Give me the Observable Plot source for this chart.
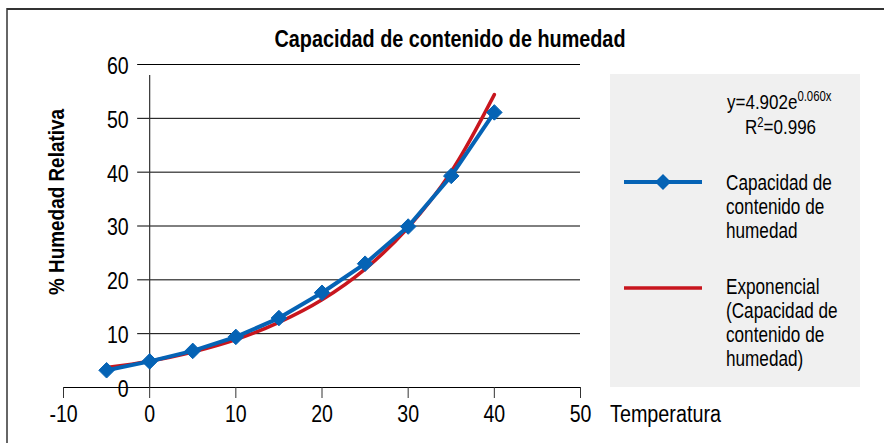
<!DOCTYPE html>
<html>
<head>
<meta charset="utf-8">
<script src="https://cdn.jsdelivr.net/npm/d3@7"></script>
<script src="https://cdn.jsdelivr.net/npm/@observablehq/plot@0.6"></script>
<style>
  html, body { margin: 0; padding: 0; background: #fff; }
  #chart { width: 884px; height: 443px; overflow: hidden; }
</style>
</head>
<body>
<div id="chart"></div>
<script>
// ---- data ----
const temperaturas = [-5, 0, 5, 10, 15, 20, 25, 30, 35, 40];
const humedad = [3.2, 4.85, 6.8, 9.4, 12.9, 17.6, 23.0, 29.9, 39.3, 51.1];
const tendencia = [3.7, 4.9, 6.6, 8.9, 12.1, 16.3, 22.0, 29.7, 40.1, 54.4];
const xTicks = [-10, 0, 10, 20, 30, 40, 50];
const yTicks = [0, 10, 20, 30, 40, 50, 60];
const titulo = "Capacidad de contenido de humedad";
const tituloY = "% Humedad Relativa";
const tituloX = "Temperatura";
const ecuacion = ["y=4.902e", "0.060x"];
const r2 = ["R", "2", "=0.996"];
const leyendaSerie = ["Capacidad de", "contenido de", "humedad"];
const leyendaTend = ["Exponencial", "(Capacidad de", "contenido de", "humedad)"];

const BLUE = "#0563b5";
const RED = "#c8161e";
const FONT = "'Liberation Sans', Arial, sans-serif";

const serie = temperaturas.map((t, i) => ({t, h: humedad[i]}));
const trend = temperaturas.map((t, i) => ({t, h: tendencia[i]}));

const plot = Plot.plot({
  width: 884,
  height: 443,
  marginLeft: 63,
  marginRight: 304,
  marginTop: 64,
  marginBottom: 56,
  style: {fontFamily: FONT, fontSize: "23px", color: "#000", background: "transparent", overflow: "visible"},
  x: {domain: [-10, 50], axis: null},
  y: {domain: [0, 60], axis: null},
  marks: [
    Plot.ruleY(yTicks.filter(d => d > 0), {x1: 0, x2: 50, insetLeft: -12, stroke: "#000", strokeWidth: 1}),
    Plot.ruleY([0], {x1: -10, x2: 50, stroke: "#000", strokeWidth: 1}),
    Plot.ruleX([0], {y1: 0, y2: 60, insetBottom: -11, stroke: "#333", strokeWidth: 1.2}),
    Plot.axisX({ticks: xTicks, tickSize: 11, tickPadding: 7, label: null, tickFormat: d => String(d), stroke: "#333", fontSize: 23}),
    Plot.text(yTicks, {x: 0, y: d => d, dx: -21, dy: 2, textAnchor: "end", text: d => String(d), fontSize: 23}),
    Plot.line(trend, {x: "t", y: "h", stroke: RED, strokeWidth: 3.5, curve: "catmull-rom"}),
    Plot.line(serie, {x: "t", y: "h", stroke: BLUE, strokeWidth: 4}),
    Plot.dot(serie, {x: "t", y: "h", symbol: "diamond2", r: 7, fill: BLUE, stroke: BLUE, strokeWidth: 1})
  ]
});

document.getElementById("chart").appendChild(plot);

const svg = d3.select(plot);

// condense the tick labels horizontally around their anchor
function condense(sel, s) {
  sel.each(function () {
    const el = d3.select(this);
    const x = +el.attr("x") || 0, y = +el.attr("y") || 0;
    const t = el.attr("transform") || "";
    el.attr("transform", `${t} translate(${x},${y}) scale(${s},1) translate(${-x},${-y})`);
  });
}
condense(svg.selectAll('g[aria-label="x-axis tick label"] text'), 0.85);
condense(svg.selectAll('g[aria-label="text"] text'), 0.85);

function addText(parent, x, y, str, o = {}) {
  const el = parent.append("text")
    .attr("transform", `translate(${x},${y})${o.rotate ? ` rotate(${o.rotate})` : ""} scale(${o.scale || 1},1)`)
    .attr("text-anchor", o.anchor || "start")
    .attr("font-family", FONT)
    .attr("font-size", o.size || 22)
    .attr("font-weight", o.weight || "normal")
    .attr("fill", "#000");
  if (str != null) el.text(str);
  return el;
}

// outer border (top + left)
svg.append("line").attr("x1", 7).attr("x2", 884).attr("y1", 9).attr("y2", 9)
  .attr("stroke", "#333").attr("stroke-width", 2);
svg.append("line").attr("x1", 7).attr("x2", 7).attr("y1", 8).attr("y2", 443)
  .attr("stroke", "#333").attr("stroke-width", 1.5);

// title
addText(svg, 450, 47, titulo, {size: 24, weight: "bold", anchor: "middle", scale: 0.825});

// y-axis title
addText(svg, 64, 202, tituloY, {size: 22, weight: "bold", anchor: "middle", rotate: -90, scale: 0.86});

// x-axis title
addText(svg, 610, 422, tituloX, {size: 23, scale: 0.86});

// legend box
const lg = svg.append("g");
lg.append("rect").attr("x", 610).attr("y", 74).attr("width", 250).attr("height", 313).attr("fill", "#f0f0f0");

const eq = addText(lg, 727, 109, null, {size: 21, scale: 0.81});
eq.append("tspan").text(ecuacion[0]);
eq.append("tspan").attr("font-size", 14).attr("dy", -8).text(ecuacion[1]);

const rr = addText(lg, 745, 134, null, {size: 21, scale: 0.81});
rr.append("tspan").text(r2[0]);
rr.append("tspan").attr("font-size", 14).attr("dy", -7).text(r2[1]);
rr.append("tspan").attr("dy", 7).text(r2[2]);

lg.append("line").attr("x1", 624).attr("x2", 702).attr("y1", 182).attr("y2", 182)
  .attr("stroke", BLUE).attr("stroke-width", 4);
lg.append("path").attr("d", "M663,174L671,182L663,190L655,182Z").attr("fill", BLUE);
leyendaSerie.forEach((s, i) => addText(lg, 726, 190 + i * 24, s, {size: 22, scale: 0.78}));

lg.append("line").attr("x1", 624).attr("x2", 702).attr("y1", 288).attr("y2", 288)
  .attr("stroke", RED).attr("stroke-width", 3.5);
leyendaTend.forEach((s, i) => addText(lg, 726, 294 + i * 24, s, {size: 22, scale: 0.78}));
</script>
</body>
</html>
